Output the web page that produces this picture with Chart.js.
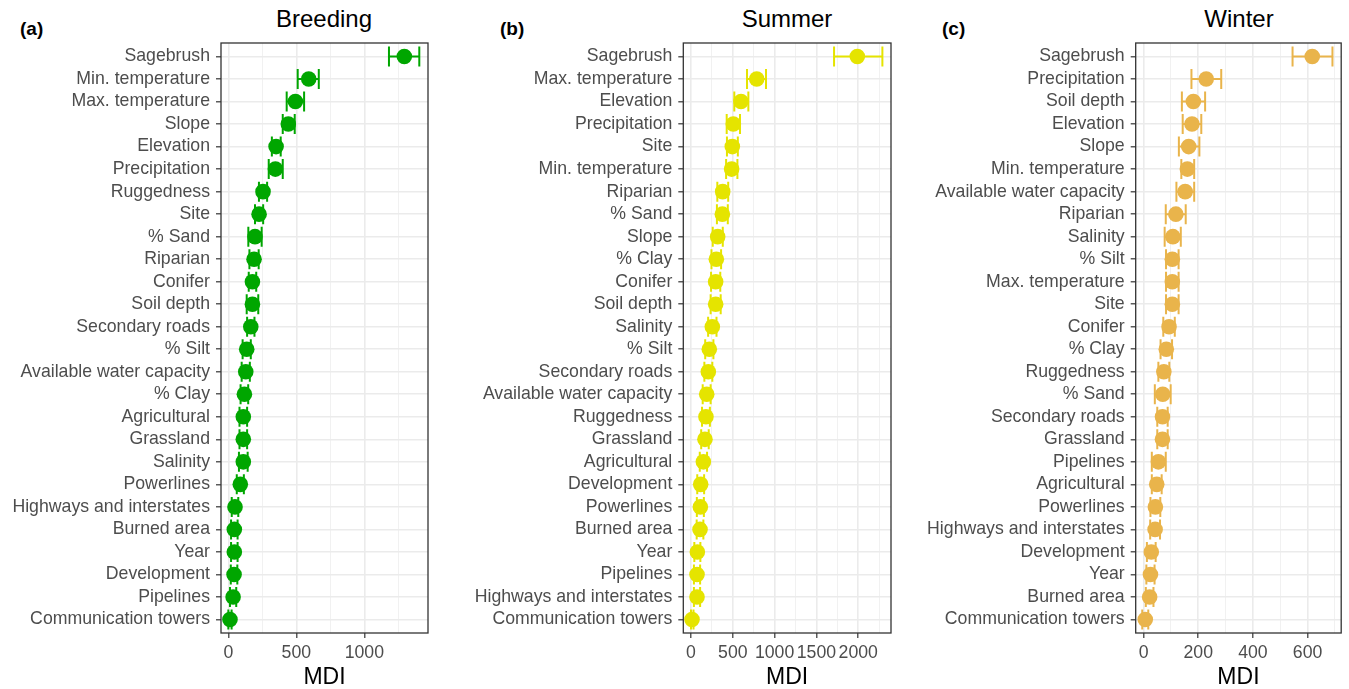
<!DOCTYPE html>
<html>
<head>
<meta charset="utf-8">
<script src="https://cdn.jsdelivr.net/npm/chart.js@4.4.1/dist/chart.umd.min.js"></script>
<style>
  body { margin: 0; background: #fff; }
  #wrap { position: relative; width: 1349px; height: 689px; overflow: hidden; font-family: "Liberation Sans", Arial, sans-serif; }
  canvas { position: absolute; top: 0; }
  .title { position: absolute; top: 7px; width: 200px; text-align: center; font-size: 24px; line-height: 24px; color: #000; }
  .tag { position: absolute; top: 19px; font-size: 19px; line-height: 19px; font-weight: bold; color: #000; }
</style>
</head>
<body>
<div id="wrap">
  <div class="tag" style="left:20px">(a)</div>
  <div class="tag" style="left:500px">(b)</div>
  <div class="tag" style="left:942px">(c)</div>
  <div class="title" style="left:224px">Breeding</div>
  <div class="title" style="left:687px">Summer</div>
  <div class="title" style="left:1139px">Winter</div>
  <canvas id="chartA" width="450" height="689" style="left:0px"></canvas>
  <canvas id="chartB" width="450" height="689" style="left:450px"></canvas>
  <canvas id="chartC" width="449" height="689" style="left:900px"></canvas>
</div>
<script>
// (a) Breeding
var labelsA = ['Sagebrush', 'Min. temperature', 'Max. temperature', 'Slope', 'Elevation', 'Precipitation', 'Ruggedness', 'Site', '% Sand', 'Riparian', 'Conifer', 'Soil depth', 'Secondary roads', '% Silt', 'Available water capacity', '% Clay', 'Agricultural', 'Grassland', 'Salinity', 'Powerlines', 'Highways and interstates', 'Burned area', 'Year', 'Development', 'Pipelines', 'Communication towers'];
var mdiA = [1294, 591, 493, 441, 351, 346, 255, 226, 196, 189, 177, 177, 165, 135, 128, 118, 110, 110, 110, 88, 49, 44, 44, 42, 35, 12];
var lowA = [1181, 510, 429, 400, 320, 297, 225, 196, 147, 155, 150, 135, 138, 105, 98, 90, 82, 82, 78, 62, 25, 20, 20, 18, 12, 0];
var highA = [1404, 665, 557, 488, 385, 400, 285, 256, 245, 223, 205, 220, 192, 165, 158, 146, 138, 138, 142, 114, 73, 68, 68, 66, 58, 24];
var ticksA = [0, 500, 1000];
var minorA = [250, 750, 1250];

// (b) Summer
var labelsB = ['Sagebrush', 'Max. temperature', 'Elevation', 'Precipitation', 'Site', 'Min. temperature', 'Riparian', '% Sand', 'Slope', '% Clay', 'Conifer', 'Soil depth', 'Salinity', '% Silt', 'Secondary roads', 'Available water capacity', 'Ruggedness', 'Grassland', 'Agricultural', 'Development', 'Powerlines', 'Burned area', 'Year', 'Pipelines', 'Highways and interstates', 'Communication towers'];
var mdiB = [1989, 786, 598, 506, 494, 486, 379, 375, 319, 303, 295, 295, 255, 219, 207, 188, 179, 167, 148, 116, 112, 108, 76, 72, 72, 12];
var lowB = [1711, 670, 518, 427, 430, 420, 315, 310, 260, 245, 240, 235, 205, 170, 160, 140, 132, 122, 105, 75, 70, 68, 40, 35, 35, 0];
var highB = [2289, 897, 686, 586, 560, 555, 445, 440, 380, 360, 350, 355, 305, 268, 255, 235, 226, 212, 192, 157, 154, 148, 112, 109, 109, 30];
var ticksB = [0, 500, 1000, 1500, 2000];
var minorB = [250, 750, 1250, 1750, 2250];

// (c) Winter
var labelsC = ['Sagebrush', 'Precipitation', 'Soil depth', 'Elevation', 'Slope', 'Min. temperature', 'Available water capacity', 'Riparian', 'Salinity', '% Silt', 'Max. temperature', 'Site', 'Conifer', '% Clay', 'Ruggedness', '% Sand', 'Secondary roads', 'Grassland', 'Pipelines', 'Agricultural', 'Powerlines', 'Highways and interstates', 'Development', 'Year', 'Burned area', 'Communication towers'];
var mdiC = [617, 229, 182, 177, 165, 160, 152, 118, 107, 105, 105, 105, 93, 83, 74, 70, 69, 69, 54, 48, 43, 42, 28, 25, 22, 6];
var lowC = [545, 175, 140, 143, 129, 138, 120, 81, 77, 82, 82, 82, 72, 62, 54, 41, 50, 50, 30, 30, 25, 24, 12, 10, 8, -5];
var highC = [691, 284, 225, 211, 204, 185, 185, 154, 136, 128, 128, 128, 114, 104, 94, 99, 88, 88, 81, 66, 61, 60, 44, 40, 36, 17];
var ticksC = [0, 200, 400, 600];
var minorC = [100, 300, 500, 700];

var FONT = '"Liberation Sans", Arial, sans-serif';

// error bars + panel border, drawn under the points
function errorBars(low, high, color) {
	return {
		id: 'errorBars',
		beforeDatasetsDraw: function(chart) {
			var ctx = chart.ctx, a = chart.chartArea;
			var xs = chart.scales.x, ys = chart.scales.y;
			ctx.save();
			ctx.strokeStyle = '#333333';
			ctx.lineWidth = 1.3;
			ctx.strokeRect(a.left, a.top, a.right - a.left, a.bottom - a.top);
			ctx.strokeStyle = color;
			ctx.lineWidth = 2;
			low.forEach(function(lo, i) {
				var x1 = xs.getPixelForValue(lo);
				var x2 = xs.getPixelForValue(high[i]);
				var y = ys.getPixelForValue(i);
				ctx.beginPath();
				ctx.moveTo(x1, y); ctx.lineTo(x2, y);
				ctx.moveTo(x1, y - 10); ctx.lineTo(x1, y + 10);
				ctx.moveTo(x2, y - 10); ctx.lineTo(x2, y + 10);
				ctx.stroke();
			});
			ctx.restore();
		}
	};
}

function makePanel(id, labels, mdi, low, high, major, minor, xmin, xmax, yWidth, padRight, color) {
	var allTicks = major.concat(minor).sort(function(a, b) { return a - b; });
	return new Chart(document.getElementById(id), {
		type: 'scatter',
		data: {
			datasets: [{
				data: mdi.map(function(v, i) { return {x: v, y: i}; }),
				backgroundColor: color,
				borderWidth: 0,
				pointRadius: 7.8,
				pointHoverRadius: 7.8
			}]
		},
		options: {
			responsive: false,
			animation: false,
			layout: { padding: { top: 43, right: padRight, bottom: 0, left: 0 } },
			plugins: { legend: { display: false }, tooltip: { enabled: false } },
			scales: {
				x: {
					type: 'linear',
					min: xmin,
					max: xmax,
					afterBuildTicks: function(scale) {
						scale.ticks = allTicks.map(function(v) { return {value: v}; });
					},
					afterFit: function(scale) { scale.height = 56; },
					ticks: {
						autoSkip: false,
						maxRotation: 0,
						padding: 4,
						color: '#4D4D4D',
						font: { family: FONT, size: 17.7 },
						callback: function(v) { return major.indexOf(v) >= 0 ? String(v) : ''; }
					},
					grid: {
						color: function(c) { return c.tick && major.indexOf(c.tick.value) >= 0 ? '#EBEBEB' : '#F1F1F1'; },
						lineWidth: function(c) { return c.tick && major.indexOf(c.tick.value) >= 0 ? 1.6 : 1; },
						tickColor: function(c) { return c.tick && major.indexOf(c.tick.value) >= 0 ? '#333333' : 'rgba(0,0,0,0)'; },
						tickLength: 5,
						tickWidth: 1.2
					},
					border: { display: false },
					title: {
						display: true,
						text: 'MDI',
						color: '#000',
						font: { family: FONT, size: 23, lineHeight: 1.2 },
						padding: { top: 0, bottom: -2 }
					}
				},
				y: {
					type: 'linear',
					reverse: true,
					min: -0.6,
					max: labels.length - 0.4,
					afterBuildTicks: function(scale) {
						scale.ticks = labels.map(function(l, i) { return {value: i}; });
					},
					afterFit: function(scale) { scale.width = yWidth; },
					ticks: {
						autoSkip: false,
						padding: 6,
						color: '#4D4D4D',
						font: { family: FONT, size: 17.7 },
						callback: function(v) { return labels[v]; }
					},
					grid: {
						color: '#EBEBEB',
						lineWidth: 1.6,
						tickColor: '#333333',
						tickLength: 5,
						tickWidth: 1.2
					},
					border: { display: false }
				}
			}
		},
		plugins: [errorBars(low, high, color)]
	});
}

makePanel('chartA', labelsA, mdiA, lowA, highA, ticksA, minorA, -54, 1468, 221, 22, '#00A600');
makePanel('chartB', labelsB, mdiB, lowB, highB, ticksB, minorB, -92, 2392, 233.3, 9, '#E5E400');
makePanel('chartC', labelsC, mdiC, lowC, highC, ticksC, minorC, -29, 723, 235.7, 5.7, '#E9B44B');
</script>
</body>
</html>
